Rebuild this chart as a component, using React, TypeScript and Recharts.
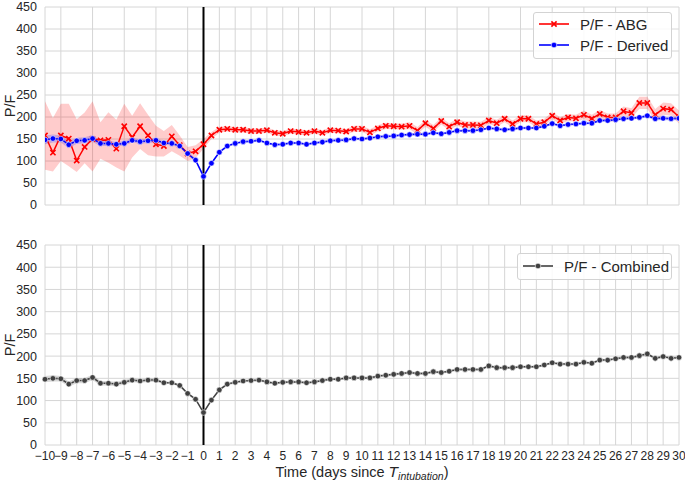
import React from 'react';
import { ComposedChart, Line, Area, XAxis, YAxis, CartesianGrid, ReferenceLine } from 'recharts';

const FONT = '"Liberation Sans", Arial, sans-serif';

// days since intubation, every half day
const days = [
    -10, -9.5, -9, -8.5, -8, -7.5, -7, -6.5, -6, -5.5, -5, -4.5, -4, -3.5, -3, -2.5, -2, -1.5, -1, -0.5,
    0, 0.5, 1, 1.5, 2, 2.5, 3, 3.5, 4, 4.5, 5, 5.5, 6, 6.5, 7, 7.5, 8, 8.5, 9, 9.5,
    10, 10.5, 11, 11.5, 12, 12.5, 13, 13.5, 14, 14.5, 15, 15.5, 16, 16.5, 17, 17.5, 18, 18.5, 19, 19.5,
    20, 20.5, 21, 21.5, 22, 22.5, 23, 23.5, 24, 24.5, 25, 25.5, 26, 26.5, 27, 27.5, 28, 28.5, 29, 29.5, 30,
];

const abgValues = [
    158, 119, 158, 151, 101, 132, 150, 147, 148, 128, 179, 154, 179, 158, 138, 134, 156, 136, 117, 122,
    138, 158, 171, 173, 171, 171, 168, 168, 170, 164, 162, 168, 166, 164, 168, 164, 170, 169, 167, 173,
    173, 165, 174, 180, 179, 178, 180, 169, 186, 174, 191, 178, 188, 182, 182, 181, 192, 186, 196, 184,
    196, 196, 184, 188, 203, 192, 199, 197, 205, 196, 207, 199, 199, 213, 209, 232, 232, 205, 219, 217, 200,
];
const abgLow = [
    80, 76, 100, 88, 75, 95, 76, 105, 96, 85, 76, 108, 127, 113, 110, 110, 122, 112, 100, 106,
    128, 150, 164, 167, 165, 165, 162, 162, 164, 158, 156, 162, 160, 158, 162, 158, 164, 163, 161, 166,
    166, 158, 167, 173, 172, 171, 172, 161, 178, 166, 183, 170, 180, 174, 174, 173, 184, 178, 188, 176,
    188, 188, 176, 180, 195, 184, 191, 189, 195, 187, 198, 190, 190, 202, 198, 218, 218, 192, 205, 203, 185,
];
const abgHigh = [
    236, 198, 230, 230, 195, 210, 236, 188, 211, 194, 230, 203, 231, 205, 180, 168, 182, 158, 132, 136,
    150, 166, 178, 179, 177, 177, 174, 174, 176, 170, 168, 174, 172, 170, 174, 170, 176, 175, 173, 180,
    180, 172, 181, 187, 186, 185, 188, 177, 194, 182, 199, 186, 196, 190, 190, 189, 200, 194, 204, 192,
    204, 204, 192, 196, 211, 200, 207, 205, 215, 205, 216, 208, 208, 224, 220, 246, 246, 218, 233, 231, 215,
];

const derivedValues = [
    148, 151, 150, 137, 146, 147, 151, 140, 140, 138, 140, 147, 144, 146, 147, 141, 140, 134, 117, 102,
    65, 95, 120, 134, 140, 144, 145, 147, 141, 137, 138, 141, 141, 138, 141, 143, 146, 147, 148, 151,
    150, 152, 155, 156, 157, 159, 160, 161, 161, 164, 162, 165, 169, 169, 169, 171, 175, 173, 171, 173,
    175, 175, 175, 179, 185, 180, 183, 184, 186, 186, 192, 192, 194, 196, 197, 199, 203, 196, 197, 196, 197,
];
const derivedSpread = [
    10, 9, 8, 8, 7, 7, 8, 6, 6, 5, 5, 5, 5, 5, 5, 4, 4, 4, 4, 4,
    4, 3, 3, 3, 3, 3, 3, 3, 3, 3, 3, 3, 3, 3, 3, 3, 3, 3, 3, 3,
    3, 3, 3, 3, 3, 3, 3, 3, 3, 3, 3, 3, 3, 3, 3, 3, 3, 3, 3, 3,
    3, 3, 3, 3, 3, 3, 3, 3, 3, 3, 3, 3, 3, 3, 3, 3, 4, 4, 4, 4, 4,
];

const combinedValues = [
    148, 150, 149, 137, 145, 145, 152, 139, 139, 137, 141, 146, 144, 146, 146, 140, 140, 134, 116, 103,
    73, 101, 124, 137, 141, 144, 145, 146, 142, 139, 141, 142, 142, 140, 142, 145, 148, 148, 151, 151,
    151, 151, 155, 157, 159, 161, 163, 161, 161, 165, 163, 166, 170, 170, 170, 170, 178, 174, 174, 174,
    176, 176, 176, 180, 185, 182, 182, 182, 186, 184, 191, 191, 194, 197, 197, 201, 205, 195, 199, 195, 197,
];
const combinedSpread = [
    7, 7, 6, 6, 6, 6, 6, 5, 5, 5, 5, 5, 4, 4, 4, 3, 3, 3, 3, 3,
    3, 3, 3, 3, 3, 3, 3, 3, 3, 3, 3, 3, 3, 3, 3, 3, 3, 3, 3, 3,
    3, 3, 3, 3, 3, 3, 3, 3, 3, 3, 3, 3, 3, 3, 3, 3, 3, 3, 3, 3,
    3, 3, 3, 3, 3, 3, 3, 3, 3, 3, 3, 3, 3, 3, 3, 3, 3, 3, 3, 3, 3,
];

const dayTicks = [
    -10, -9, -8, -7, -6, -5, -4, -3, -2, -1, 0, 1, 2, 3, 4, 5, 6, 7, 8, 9, 10,
    11, 12, 13, 14, 15, 16, 17, 18, 19, 20, 21, 22, 23, 24, 25, 26, 27, 28, 29, 30,
];
const pfTicks = [0, 50, 100, 150, 200, 250, 300, 350, 400, 450];

const topData = days.map((day, i) => ({
    day,
    abg: abgValues[i],
    abgBand: [abgLow[i], abgHigh[i]],
    derived: derivedValues[i],
    derivedBand: [derivedValues[i] - derivedSpread[i], derivedValues[i] + derivedSpread[i]],
}));

const bottomData = days.map((day, i) => ({
    day,
    combined: combinedValues[i],
    combinedBand: [combinedValues[i] - combinedSpread[i], combinedValues[i] + combinedSpread[i]],
}));

const fmtDay = (v: number) => (v < 0 ? `\u2212${Math.abs(v)}` : `${v}`);

const CrossDot = (props: any) => {
    const { cx, cy } = props;
    if (cx == null || cy == null) return null;
    const s = 2.6;
    return (
        <path
            d={`M${cx - s},${cy - s}L${cx + s},${cy + s}M${cx - s},${cy + s}L${cx + s},${cy - s}`}
            stroke="#ff0000"
            strokeWidth={1.6}
        />
    );
};

const RoundDot = (props: any) => {
    const { cx, cy, color } = props;
    if (cx == null || cy == null) return null;
    return <circle cx={cx} cy={cy} r={2.8} fill={color} stroke="#ffffff" strokeWidth={0.6} />;
};

const PFLabel = ({ viewBox }: any) => {
    const cy = viewBox.y + viewBox.height / 2;
    return (
        <text x={15} y={cy} transform={`rotate(-90 15 ${cy})`} textAnchor="middle" fontSize={14.5} fill="#262626" fontFamily={FONT}>
            P/F
        </text>
    );
};

const TimeLabel = ({ viewBox }: any) => {
    const { x, y, width } = viewBox;
    return (
        <text x={x + width / 2} y={y + 32} textAnchor="middle" fontSize={14.5} fill="#262626" fontFamily={FONT}>
            Time (days since <tspan fontStyle="italic" fontSize={15.5}>T</tspan>
            <tspan fontStyle="italic" fontSize={10.5} dy={3}>intubation</tspan>
            <tspan dy={-3}>)</tspan>
        </text>
    );
};

const yTickStyle = { fontSize: 12.5, fill: '#262626', fontFamily: FONT };
const xTickStyle = { fontSize: 12, fill: '#262626', fontFamily: FONT };

const LegendRow = ({ label, kind, color, top }: any) => (
    <div style={{ position: 'absolute', left: 4, top, height: 20, display: 'flex', alignItems: 'center' }}>
        <svg width={32} height={20}>
            <line x1={1} y1={10} x2={31} y2={10} stroke={color} strokeWidth={1.6} />
            {kind === 'x' ? <CrossDot cx={16} cy={10} /> : <RoundDot cx={16} cy={10} color={color} />}
        </svg>
        <span style={{ marginLeft: 10, fontSize: 15, color: '#262626', fontFamily: FONT, whiteSpace: 'nowrap' }}>{label}</span>
    </div>
);

const App: React.FC = () => {
    return (
        <div style={{ position: 'absolute', left: 0, top: 0, width: 685, height: 482, background: '#ffffff', fontFamily: FONT, overflow: 'hidden' }}>
            {/* top panel: plot area y 7..205 */}
            <div style={{ position: 'absolute', left: 0, top: -3 }}>
                <ComposedChart width={685} height={218} data={topData} margin={{ top: 10, right: 6, bottom: 10, left: 0 }}>
                    <CartesianGrid stroke="#d6d6d6" strokeWidth={1} />
                    <XAxis dataKey="day" type="number" domain={[-10, 30]} ticks={dayTicks} hide allowDataOverflow />
                    <YAxis
                        domain={[0, 450]}
                        ticks={pfTicks}
                        interval={0}
                        width={45}
                        axisLine={false}
                        tickLine={false}
                        tick={yTickStyle}
                        label={<PFLabel />}
                    />
                    <Area dataKey="abgBand" stroke="none" fill="#ff0000" fillOpacity={0.2} isAnimationActive={false} />
                    <Area dataKey="derivedBand" stroke="none" fill="#0000ff" fillOpacity={0.2} isAnimationActive={false} />
                    <ReferenceLine x={0} stroke="#000000" strokeWidth={2} />
                    <Line dataKey="abg" stroke="#ff0000" strokeWidth={1.5} dot={<CrossDot />} activeDot={false} isAnimationActive={false} />
                    <Line dataKey="derived" stroke="#0000ff" strokeWidth={1.5} dot={<RoundDot color="#0000ff" />} activeDot={false} isAnimationActive={false} />
                </ComposedChart>
            </div>
            {/* bottom panel: plot area y 245..445 */}
            <div style={{ position: 'absolute', left: 0, top: 232 }}>
                <ComposedChart width={685} height={250} data={bottomData} margin={{ top: 13, right: 6, bottom: 0, left: 0 }}>
                    <CartesianGrid stroke="#d6d6d6" strokeWidth={1} />
                    <XAxis
                        dataKey="day"
                        type="number"
                        domain={[-10, 30]}
                        ticks={dayTicks}
                        interval={0}
                        height={37}
                        axisLine={false}
                        tickLine={false}
                        tickSize={6}
                        tickMargin={0}
                        tick={xTickStyle}
                        tickFormatter={fmtDay}
                        label={<TimeLabel />}
                    />
                    <YAxis
                        domain={[0, 450]}
                        ticks={pfTicks}
                        interval={0}
                        width={45}
                        axisLine={false}
                        tickLine={false}
                        tick={yTickStyle}
                        label={<PFLabel />}
                    />
                    <Area dataKey="combinedBand" stroke="none" fill="#404040" fillOpacity={0.2} isAnimationActive={false} />
                    <ReferenceLine x={0} stroke="#000000" strokeWidth={2} />
                    <Line dataKey="combined" stroke="#404040" strokeWidth={1.5} dot={<RoundDot color="#404040" />} activeDot={false} isAnimationActive={false} />
                </ComposedChart>
            </div>

            <div style={{ position: 'absolute', left: 533, top: 12, width: 139, height: 47, border: '1px solid #d3d3d3', borderRadius: 3, background: 'rgba(255,255,255,0.85)', boxSizing: 'border-box' }}>
                <LegendRow label="P/F - ABG" kind="x" color="#ff0000" top={1} />
                <LegendRow label="P/F - Derived" kind="o" color="#0000ff" top={22} />
            </div>
            <div style={{ position: 'absolute', left: 517, top: 253, width: 155, height: 27, border: '1px solid #d3d3d3', borderRadius: 3, background: 'rgba(255,255,255,0.85)', boxSizing: 'border-box' }}>
                <LegendRow label="P/F - Combined" kind="o" color="#404040" top={2} />
            </div>
        </div>
    );
};

export default App;
